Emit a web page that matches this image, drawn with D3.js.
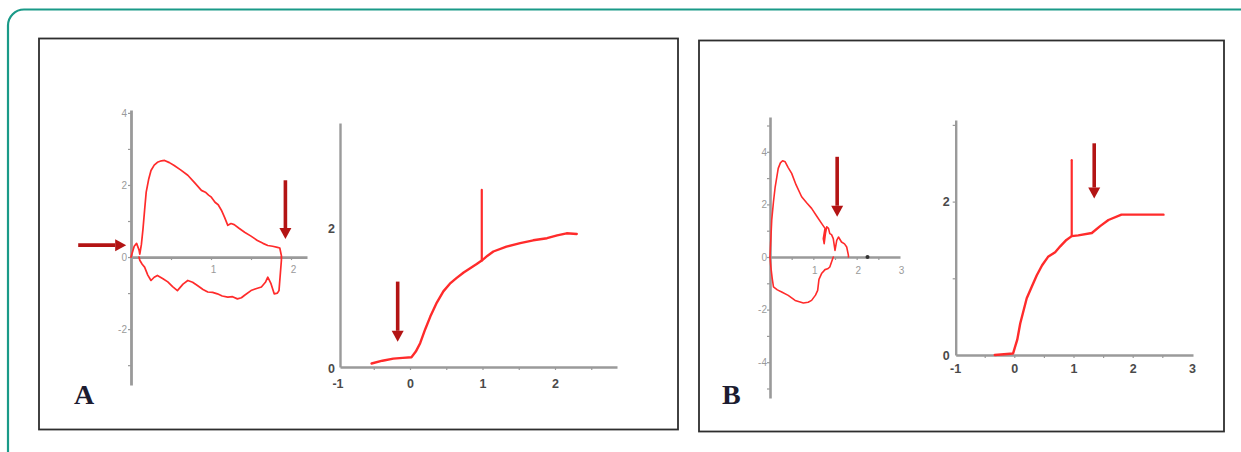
<!DOCTYPE html>
<html><head><meta charset="utf-8">
<script src="https://cdn.jsdelivr.net/npm/d3@7"></script>
<style>html,body{margin:0;padding:0;background:#fff;} svg{display:block}</style>
</head><body>
<svg id="c" width="1241" height="452"></svg>
<script>
// ---------- DATA ----------
// Panel A, flow-volume loop (volume L, flow L/s)
const fvA_expiration = [[0,0],[0.04,0.3],[0.07,0.38],[0.1,0.2],[0.11,0.08],[0.13,0.35],[0.15,0.78],[0.17,1.3],[0.19,1.8],[0.22,2.15],[0.25,2.4],[0.29,2.55],[0.33,2.63],[0.38,2.67],[0.42,2.68],[0.48,2.62],[0.54,2.54],[0.62,2.42],[0.71,2.27],[0.8,2.05],[0.88,1.85],[0.93,1.8],[0.97,1.72],[1.0,1.67],[1.05,1.52],[1.09,1.45],[1.13,1.3],[1.17,1.1],[1.21,0.88],[1.25,0.93],[1.29,0.9],[1.35,0.8],[1.42,0.69],[1.5,0.58],[1.58,0.46],[1.65,0.38],[1.71,0.32],[1.77,0.3],[1.83,0.27],[1.86,0.25],[1.88,0.04],[1.88,0]];
const fvA_inspiration = [[0.1,0],[0.11,-0.09],[0.14,-0.2],[0.17,-0.28],[0.21,-0.5],[0.25,-0.65],[0.29,-0.56],[0.33,-0.51],[0.4,-0.6],[0.46,-0.69],[0.52,-0.82],[0.58,-0.93],[0.65,-0.75],[0.71,-0.65],[0.77,-0.7],[0.83,-0.79],[0.9,-0.9],[0.96,-0.97],[1.02,-0.98],[1.08,-1.02],[1.14,-1.08],[1.21,-1.11],[1.27,-1.1],[1.33,-1.16],[1.38,-1.13],[1.42,-1.06],[1.5,-0.93],[1.56,-0.88],[1.63,-0.83],[1.68,-0.7],[1.71,-0.56],[1.75,-0.74],[1.79,-1.02],[1.83,-1.0],[1.85,-0.93],[1.88,-0.09],[1.88,0]];
// Panel A, volume-time curve (time s, volume L)
const vtA_curve = [[-0.53,0.05],[-0.38,0.09],[-0.23,0.12],[-0.1,0.13],[0.02,0.14],[0.08,0.22],[0.14,0.34],[0.21,0.54],[0.28,0.72],[0.37,0.92],[0.46,1.08],[0.55,1.19],[0.64,1.27],[0.74,1.35],[0.83,1.41],[0.92,1.47],[0.99,1.52],[1.07,1.59],[1.15,1.65],[1.33,1.72],[1.52,1.77],[1.7,1.81],[1.89,1.84],[2.03,1.88],[2.16,1.91],[2.3,1.9]];
const vtA_spike = [[0.99,1.52],[0.99,2.53]];
// Panel B, flow-volume loop
const fvB_expiration = [[0,0],[0.02,0.7],[0.04,1.41],[0.08,2.1],[0.12,2.67],[0.19,3.37],[0.24,3.58],[0.29,3.66],[0.35,3.62],[0.42,3.4],[0.5,3.18],[0.6,2.75],[0.73,2.29],[0.85,2.05],[0.96,1.85],[1.08,1.55],[1.19,1.28],[1.27,1.09],[1.23,0.7],[1.25,0.51],[1.28,0.9],[1.31,1.15],[1.35,1.09],[1.38,0.89],[1.42,0.85],[1.46,0.7],[1.5,0.25],[1.54,0.63],[1.58,0.76],[1.65,0.57],[1.72,0.5],[1.77,0.38],[1.81,0.06],[1.81,0]];
const fvB_inspiration = [[0,0],[0.02,-0.38],[0.05,-0.8],[0.08,-1.14],[0.17,-1.25],[0.27,-1.33],[0.42,-1.46],[0.58,-1.65],[0.77,-1.75],[0.88,-1.72],[0.96,-1.65],[1.05,-1.45],[1.1,-1.27],[1.13,-0.85],[1.19,-0.63],[1.27,-0.48],[1.33,-0.45],[1.38,-0.38],[1.46,0]];
const fvB_marker = [[2.25,0]];
// Panel B, volume-time curve
const vtB_curve = [[-0.33,0],[-0.02,0.02],[0.05,0.2],[0.1,0.41],[0.21,0.74],[0.3,0.9],[0.38,1.04],[0.47,1.17],[0.57,1.28],[0.69,1.34],[0.78,1.42],[0.88,1.5],[0.97,1.55],[1.08,1.56],[1.31,1.59],[1.45,1.68],[1.59,1.76],[1.81,1.83],[2.15,1.83],[2.52,1.83]];
const vtB_spike = [[0.97,1.55],[0.97,2.54]];
// Annotation arrows [x1, y1, x2, y2] in each chart's data units
const arrowsA_fv = [[-0.66,0.33,-0.06,0.33],[1.93,2.13,1.93,0.5]];
const arrowsA_vt = [[-0.17,1.22,-0.17,0.36]];
const arrowsB_fv = [[1.55,3.81,1.55,1.53]];
const arrowsB_vt = [[1.35,2.76,1.35,2.04]];
// Tick labels
const fvA_xLabels = [1,2], fvA_yLabels = [-2,0,2,4];
const vtA_xLabels = [-1,0,1,2], vtA_yLabels = [0,2];
const fvB_xLabels = [1,2,3], fvB_yLabels = [-4,-2,0,2,4];
const vtB_xLabels = [-1,0,1,2,3], vtB_yLabels = [0,2];
const panelLabels = ["A","B"];

// ---------- DRAW ----------
const svg = d3.select("#c");
const RED = "#ff2b2b", ARROW = "#b31414", AXIS = "#9a9a9a";
const fmt = d => String(d); // plain hyphen minus, as in the source

// outer teal frame
svg.append("rect").attr("x",8).attr("y",9.5).attr("width",1270).attr("height",470)
  .attr("rx",16).attr("fill","none").attr("stroke","#1a9a88").attr("stroke-width",2.2);
// panel boxes
svg.append("rect").attr("x",39).attr("y",38.5).attr("width",639).attr("height",391)
  .attr("fill","none").attr("stroke","#2e2e2e").attr("stroke-width",1.8);
svg.append("rect").attr("x",699).attr("y",40.5).attr("width",525).attr("height",391)
  .attr("fill","none").attr("stroke","#2e2e2e").attr("stroke-width",1.8);

const line = (x,y) => d3.line().x(d=>x(d[0])).y(d=>y(d[1]));

function axes(x, y, o){
  const g = svg.append("g");
  const gx = g.append("g").attr("transform",`translate(0,${y(0)})`)
    .call(d3.axisBottom(x).tickValues(o.xTicks).tickSize(o.tick).tickSizeOuter(0).tickFormat(""));
  const gy = g.append("g").attr("transform",`translate(${x.range()[0]},0)`)
    .call(d3.axisLeft(y).tickValues(o.yTicks).tickSize(o.tick).tickSizeOuter(0).tickFormat(""));
  [gx,gy].forEach(a=>{
    a.select(".domain").attr("stroke",AXIS).attr("stroke-width",o.w);
    a.selectAll(".tick line").attr("stroke",AXIS).attr("stroke-width",1.2);
  });
  const lx = g.append("g").attr("transform",`translate(0,${y(0)})`)
    .call(d3.axisBottom(x).tickValues(o.xLabels).tickSize(0).tickPadding(o.xPad).tickFormat(fmt));
  const ly = g.append("g").attr("transform",`translate(${x.range()[0]},0)`)
    .call(d3.axisLeft(y).tickValues(o.yLabels).tickSize(0).tickPadding(o.yPad).tickFormat(fmt));
  [lx,ly].forEach(a=>{
    a.select(".domain").remove();
    a.selectAll("text").attr("fill",o.color).attr("font-size",o.fs)
      .attr("font-family","Liberation Sans, Arial, sans-serif").attr("font-weight",o.fw);
  });
  lx.selectAll("text").attr("dx",o.xdx||0);
  ly.selectAll("text").attr("dy",o.ydy||"0.32em");
}
function curve(x,y,data,w){
  svg.append("path").datum(data).attr("d",line(x,y)).attr("fill","none")
    .attr("stroke",RED).attr("stroke-width",w).attr("stroke-linejoin","round").attr("stroke-linecap","round");
}
function arrows(x,y,data){
  data.forEach(a=>{
    const x1=x(a[0]), y1=y(a[1]), x2=x(a[2]), y2=y(a[3]);
    const L=Math.hypot(x2-x1,y2-y1), ux=(x2-x1)/L, uy=(y2-y1)/L, hl=11, hw=6;
    const bx=x2-ux*hl, by=y2-uy*hl;
    svg.append("line").attr("x1",x1).attr("y1",y1).attr("x2",bx).attr("y2",by)
      .attr("stroke",ARROW).attr("stroke-width",3.6);
    svg.append("path").attr("d",`M${x2},${y2}L${bx-uy*hw},${by+ux*hw}L${bx+uy*hw},${by-ux*hw}Z`)
      .attr("fill",ARROW);
  });
}

// Panel A flow-volume
{
  const x = d3.scaleLinear().domain([0,2.2]).range([131,307]);
  const y = d3.scaleLinear().domain([-3.55,4.08]).range([385,110]);
  axes(x,y,{xTicks:[0.5,1,1.5,2],yTicks:d3.range(-3,5),xLabels:fvA_xLabels,yLabels:fvA_yLabels,
    tick:3,w:2.8,color:"#9a9a9a",fs:10,fw:"normal",xPad:9,yPad:4,xdx:2});
  curve(x,y,fvA_expiration,1.7);
  curve(x,y,fvA_inspiration,1.7);
  arrows(x,y,arrowsA_fv);
}
// Panel A volume-time
{
  const x = d3.scaleLinear().domain([-70/72.5,207/72.5]).range([340,617]);
  const y = d3.scaleLinear().domain([0,244/70]).range([367,123]);
  axes(x,y,{xTicks:[-0.5,0,0.5,1,1.5,2,2.5],yTicks:[],xLabels:vtA_xLabels,yLabels:vtA_yLabels,
    tick:3,w:2.4,color:"#4a4a4a",fs:12.5,fw:"bold",xPad:12,yPad:5,ydy:"0.45em"});
  curve(x,y,vtA_curve,2.4);
  curve(x,y,vtA_spike,2.2);
  arrows(x,y,arrowsA_vt);
}
// Panel B flow-volume
{
  const x = d3.scaleLinear().domain([0,3.0]).range([770,900]);
  const y = d3.scaleLinear().domain([-141/26.3,140/26.3]).range([398,117]);
  axes(x,y,{xTicks:[0.5,1,1.5,2,2.5],yTicks:d3.range(-5,6),xLabels:fvB_xLabels,yLabels:fvB_yLabels,
    tick:3,w:2.6,color:"#9a9a9a",fs:10,fw:"normal",xPad:10,yPad:3,xdx:1});
  curve(x,y,fvB_expiration,1.6);
  curve(x,y,fvB_inspiration,1.6);
  svg.selectAll(null).data(fvB_marker).enter().append("circle")
    .attr("cx",d=>x(d[0])).attr("cy",d=>y(d[1])).attr("r",2).attr("fill","#333");
  arrows(x,y,arrowsB_fv);
}
// Panel B volume-time
{
  const x = d3.scaleLinear().domain([-58.6/59.2,178.7/59.2]).range([955.7,1193]);
  const y = d3.scaleLinear().domain([0,235/76.7]).range([355,120]);
  axes(x,y,{xTicks:[-0.5,0,0.5,1,1.5,2,2.5],yTicks:[1,2,3],xLabels:vtB_xLabels,yLabels:vtB_yLabels,
    tick:3,w:2.4,color:"#4a4a4a",fs:12.5,fw:"bold",xPad:9,yPad:6,ydy:"0.35em"});
  curve(x,y,vtB_curve,2.4);
  curve(x,y,vtB_spike,2.2);
  arrows(x,y,arrowsB_vt);
}
// panel letters
svg.selectAll("text.plabel").data(panelLabels).enter().append("text").attr("class","plabel")
  .attr("x",(d,i)=>i===0?74:722).attr("y",404)
  .attr("font-family","Liberation Serif, Times New Roman, serif").attr("font-weight","bold")
  .attr("font-size",28).attr("fill","#1c1c30").text(d=>d);
</script>
</body></html>
